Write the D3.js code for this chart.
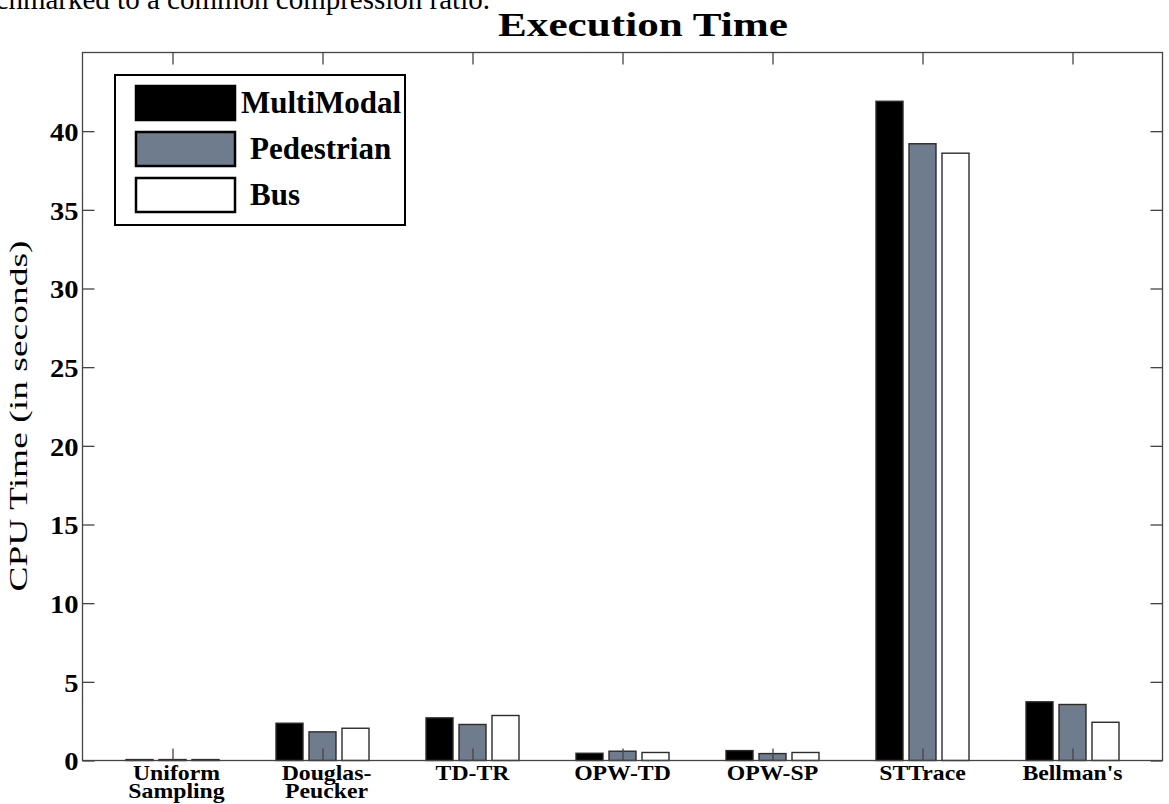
<!DOCTYPE html>
<html>
<head>
<meta charset="utf-8">
<script src="https://cdn.jsdelivr.net/npm/d3@7/dist/d3.min.js"></script>
<style>
  body { margin: 0; background: #fff; }
  text { font-family: "Liberation Serif", "Times New Roman", serif; fill: #000; }
</style>
</head>
<body>
<script>
var width = 1169,
    height = 804;

// data
var methods = [["Uniform", "Sampling"], ["Douglas-", "Peucker"], ["TD-TR"], ["OPW-TD"], ["OPW-SP"], ["STTrace"], ["Bellman's"]];
var seriesNames = ["MultiModal", "Pedestrian", "Bus"];
var multiModal = [0.06, 2.37, 2.71, 0.46, 0.63, 41.9, 3.73];
var pedestrian = [0.06, 1.82, 2.29, 0.59, 0.44, 39.2, 3.56];
var bus        = [0.06, 2.05, 2.86, 0.51, 0.51, 38.6, 2.43];
var yTicks = [0, 5, 10, 15, 20, 25, 30, 35, 40];

var series = [multiModal, pedestrian, bus];
var fills = ["#000000", "#6f7c8e", "#ffffff"];

// plot box (note: "top" is taken by window.top)
var plotL = 82.5, plotR = 1162.5, plotT = 52.5, plotB = 760.5;

var x = d3.scaleLinear().domain([0.4, 7.6]).range([plotL, plotR]);
var y = d3.scaleLinear().domain([0, 45]).range([plotB, plotT]);

var barW = x(0.18) - x(0),
    barStep = 0.22;

var svg = d3.select("body").append("svg")
    .attr("width", width)
    .attr("height", height);

// stretch text a bit, the original export draws fonts wider than normal
function stretch(sel, factor) {
    sel.each(function() {
        var n = this.getComputedTextLength();
        d3.select(this).attr("textLength", n * factor).attr("lengthAdjust", "spacingAndGlyphs");
    });
}

// cut-off line of the document above the figure
svg.append("text")
    .attr("x", 490).attr("y", 9)
    .attr("text-anchor", "end")
    .style("font-size", "29px")
    .text("benchmarked to a common compression ratio.");

// bars
series.forEach(function(vals, s) {
    svg.selectAll(".bar" + s)
        .data(vals)
        .enter().append("rect")
        .attr("class", "bar" + s)
        .attr("x", function(d, i) { return x(i + 1 + (s - 1) * barStep) - barW / 2; })
        .attr("y", function(d) { return y(d); })
        .attr("width", barW)
        .attr("height", function(d) { return y(0) - y(d); })
        .style("fill", fills[s])
        .style("stroke", "#2b2b2b")
        .style("stroke-width", 1.4);
});

// frame
svg.append("rect")
    .attr("x", plotL).attr("y", plotT)
    .attr("width", plotR - plotL).attr("height", plotB - plotT)
    .style("fill", "none")
    .style("stroke", "#444")
    .style("stroke-width", 1.3);

// axes, ticks pointing inwards
var tickLen = 12;
var xAxisB = d3.axisBottom(x).tickValues(d3.range(1, 8)).tickSize(-tickLen).tickFormat("");
var xAxisT = d3.axisTop(x).tickValues(d3.range(1, 8)).tickSize(-tickLen).tickFormat("");
var yAxisL = d3.axisLeft(y).tickValues(yTicks).tickSize(-tickLen);
var yAxisR = d3.axisRight(y).tickValues(yTicks).tickSize(-tickLen).tickFormat("");

svg.append("g").attr("transform", "translate(0," + plotB + ")").call(xAxisB);
svg.append("g").attr("transform", "translate(0," + plotT + ")").call(xAxisT);
var gy = svg.append("g").attr("transform", "translate(" + plotL + ",0)").call(yAxisL);
svg.append("g").attr("transform", "translate(" + plotR + ",0)").call(yAxisR);

svg.selectAll(".domain").remove();
svg.selectAll(".tick line").style("stroke", "#444").style("stroke-width", 1.3);

gy.selectAll(".tick text")
    .attr("x", -4)
    .attr("dy", "0.36em")
    .style("font-family", "'Liberation Serif', serif")
    .style("font-size", "26px")
    .style("font-weight", "bold")
    .style("fill", "#000")
    .call(stretch, 1.1);

// category labels
methods.forEach(function(lines, i) {
    lines.forEach(function(t, k) {
        svg.append("text")
            .attr("class", "xlab")
            .attr("x", x(i + 1) + (lines.length > 1 ? 4 : 0))
            .attr("y", 780 + k * 18)
            .attr("text-anchor", "middle")
            .style("font-size", "21px")
            .style("font-weight", "bold")
            .text(t);
    });
});
svg.selectAll(".xlab").call(stretch, 1.13);

// title
svg.append("text")
    .attr("x", 643).attr("y", 36)
    .attr("text-anchor", "middle")
    .style("font-size", "34px")
    .style("font-weight", "bold")
    .text("Execution Time")
    .call(stretch, 1.27);

// y label
svg.append("text")
    .attr("transform", "translate(27,416) rotate(-90)")
    .attr("text-anchor", "middle")
    .style("font-size", "25px")
    .text("CPU Time (in seconds)")
    .call(stretch, 1.5);

// legend
var legend = svg.append("g");
legend.append("rect")
    .attr("x", 115).attr("y", 75)
    .attr("width", 290).attr("height", 150)
    .style("fill", "#fff")
    .style("stroke", "#000")
    .style("stroke-width", 2);

var item = legend.selectAll(".item")
    .data(seriesNames)
    .enter().append("g")
    .attr("class", "item")
    .attr("transform", function(d, i) { return "translate(0," + (i * 46) + ")"; });

item.append("rect")
    .attr("x", 136).attr("y", 86)
    .attr("width", 99).attr("height", 34)
    .style("fill", function(d, i) { return fills[i]; })
    .style("stroke", "#000")
    .style("stroke-width", 2.5);

item.append("text")
    .attr("x", function(d, i) { return i == 0 ? 241 : 250; })
    .attr("y", 113)
    .style("font-size", "31px")
    .style("font-weight", "bold")
    .text(function(d) { return d; });
</script>
</body>
</html>
